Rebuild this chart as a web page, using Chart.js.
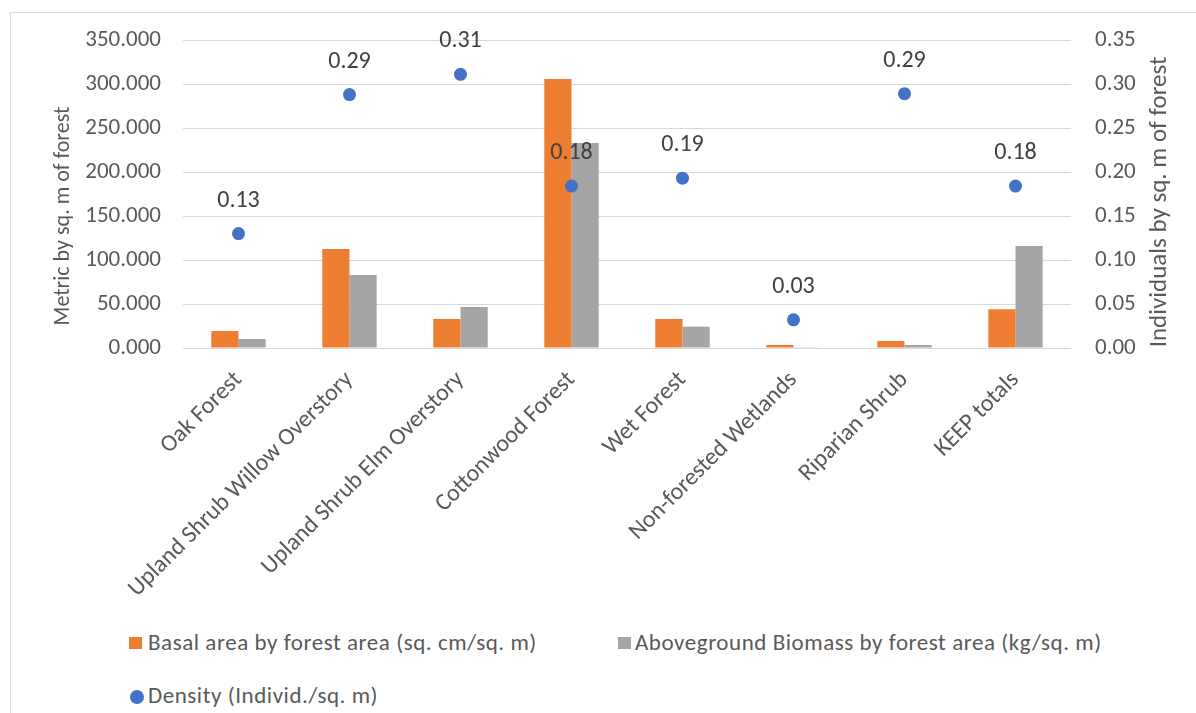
<!DOCTYPE html>
<html><head><meta charset="utf-8">
<script src="https://cdn.jsdelivr.net/npm/chart.js@4.4.0/dist/chart.umd.min.js"></script>
<style>
html,body{margin:0;padding:0;background:#fff;}
body{width:1196px;height:713px;position:relative;overflow:hidden;font-family:Carlito, Lato, sans-serif;}
#frame{position:absolute;left:10px;top:12px;width:1300px;height:800px;border-left:1px solid #d9d9d9;border-top:1px solid #d9d9d9;}
#wrap{position:absolute;left:0;top:0;width:1196px;height:610px;}
.leg{position:absolute;font-size:23px;letter-spacing:0.55px;color:#595959;white-space:nowrap;line-height:28px;height:28px;}
.leg span.t{position:absolute;top:0;white-space:nowrap;}
.sq{position:absolute;width:13px;height:12px;}
.dot{position:absolute;width:14px;height:14px;border-radius:50%;}
</style>
</head><body>
<div id="frame"></div>
<div id="wrap"><canvas id="c" width="1196" height="610"></canvas></div>
<div class="leg" style="left:0;top:628px;width:1196px;">
  <span class="sq" style="left:129px;top:9px;background:#ED7D31"></span><span class="t" style="left:148px;">Basal area by forest area (sq. cm/sq. m)</span>
  <span class="sq" style="left:618px;top:9px;background:#A5A5A5"></span><span class="t" style="left:635px;">Aboveground Biomass by forest area (kg/sq. m)</span>
</div>
<div class="leg" style="left:0;top:681px;width:1196px;">
  <span class="dot" style="left:130px;top:9px;background:#4472C4"></span><span class="t" style="left:148px;">Density (Individ./sq. m)</span>
</div>
<script>
const categories = ["Oak Forest","Upland Shrub Willow Overstory","Upland Shrub Elm Overstory","Cottonwood Forest","Wet Forest","Non-forested Wetlands","Riparian Shrub","KEEP totals"];
const basalArea = [19.3, 112.5, 33.0, 305.7, 33.0, 3.5, 8.0, 44.0];
const biomass = [10.2, 83.0, 46.6, 233.0, 24.3, 0.4, 3.4, 115.8];
const density = [0.130, 0.288, 0.311, 0.184, 0.193, 0.032, 0.289, 0.184];
const leftAxisTitle = "Metric by sq. m of forest";
const rightAxisTitle = "Individuals by sq. m of forest";

const FONT = "Carlito, Lato, sans-serif";
const TXT = "#595959";

const labelPlugin = {
  id: 'pointLabels',
  afterDatasetsDraw(chart) {
    const meta = chart.getDatasetMeta(2);
    const ctx = chart.ctx;
    ctx.save();
    ctx.font = "24px " + FONT;
    ctx.fillStyle = "#404040";
    ctx.textAlign = "center";
    ctx.textBaseline = "middle";
    meta.data.forEach((pt, i) => {
      ctx.fillText(density[i].toFixed(2), pt.x, pt.y - 33);
    });
    ctx.restore();
  }
};
const axisTitlePlugin = {
  id: 'axisTitles',
  afterDraw(chart) {
    const ctx = chart.ctx;
    const ca = chart.chartArea;
    const mid = (ca.top + ca.bottom) / 2;
    ctx.save();
    ctx.fillStyle = TXT;
    ctx.textAlign = "center";
    ctx.textBaseline = "middle";
    // left
    ctx.save();
    ctx.font = "22px " + FONT;
    ctx.translate(chart.scales.y.left + 14, mid + 22);
    ctx.rotate(-Math.PI / 2);
    ctx.fillText(leftAxisTitle, 0, 0);
    ctx.restore();
    // right
    ctx.save();
    ctx.font = "25px " + FONT;
    ctx.translate(chart.scales.y1.right - 26, mid + 8);
    ctx.rotate(-Math.PI / 2);
    ctx.fillText(rightAxisTitle, 0, 0);
    ctx.restore();
    ctx.restore();
  }
};

new Chart(document.getElementById('c'), {
  type: 'bar',
  data: {
    labels: categories,
    datasets: [
      {label: 'Basal area by forest area (sq. cm/sq. m)', data: basalArea, backgroundColor: '#ED7D31', yAxisID: 'y', order: 1, categoryPercentage: 0.49, barPercentage: 1},
      {label: 'Aboveground Biomass by forest area (kg/sq. m)', data: biomass, backgroundColor: '#A5A5A5', yAxisID: 'y', order: 1, categoryPercentage: 0.49, barPercentage: 1},
      {type: 'line', label: 'Density (Individ./sq. m)', data: density, yAxisID: 'y1', showLine: false, pointRadius: 6.5, pointBackgroundColor: '#4472C4', pointBorderWidth: 0, order: 0}
    ]
  },
  options: {
    responsive: false,
    animation: false,
    layout: {padding: {left: 49, top: 40, right: 10, bottom: 0}},
    plugins: {legend: {display: false}, tooltip: {enabled: false}},
    scales: {
      x: {
        grid: {display: false, drawTicks: false},
        border: {display: false},
        ticks: {minRotation: 45, maxRotation: 45, autoSkip: false, padding: 18, color: TXT, font: {family: FONT, size: 24}},
        afterFit(s) { s.height = 610 - 348; }
      },
      y: {
        position: 'left', min: 0, max: 350,
        ticks: {stepSize: 50, padding: 22, color: TXT, font: {family: FONT, size: 23}, callback: v => Number(v).toFixed(3)},
        grid: {color: '#D9D9D9', drawTicks: false, lineWidth: 1},
        border: {display: false},
        afterFit(s) { s.width = 183 - 49; }
      },
      y1: {
        position: 'right', min: 0, max: 0.35,
        ticks: {stepSize: 0.05, padding: 24, color: TXT, font: {family: FONT, size: 23}, callback: v => Number(v).toFixed(2)},
        grid: {display: false, drawTicks: false},
        border: {display: false},
        afterFit(s) { s.width = 1196 - 10 - 1071; }
      }
    }
  },
  plugins: [labelPlugin, axisTitlePlugin]
});
</script>
</body></html>
